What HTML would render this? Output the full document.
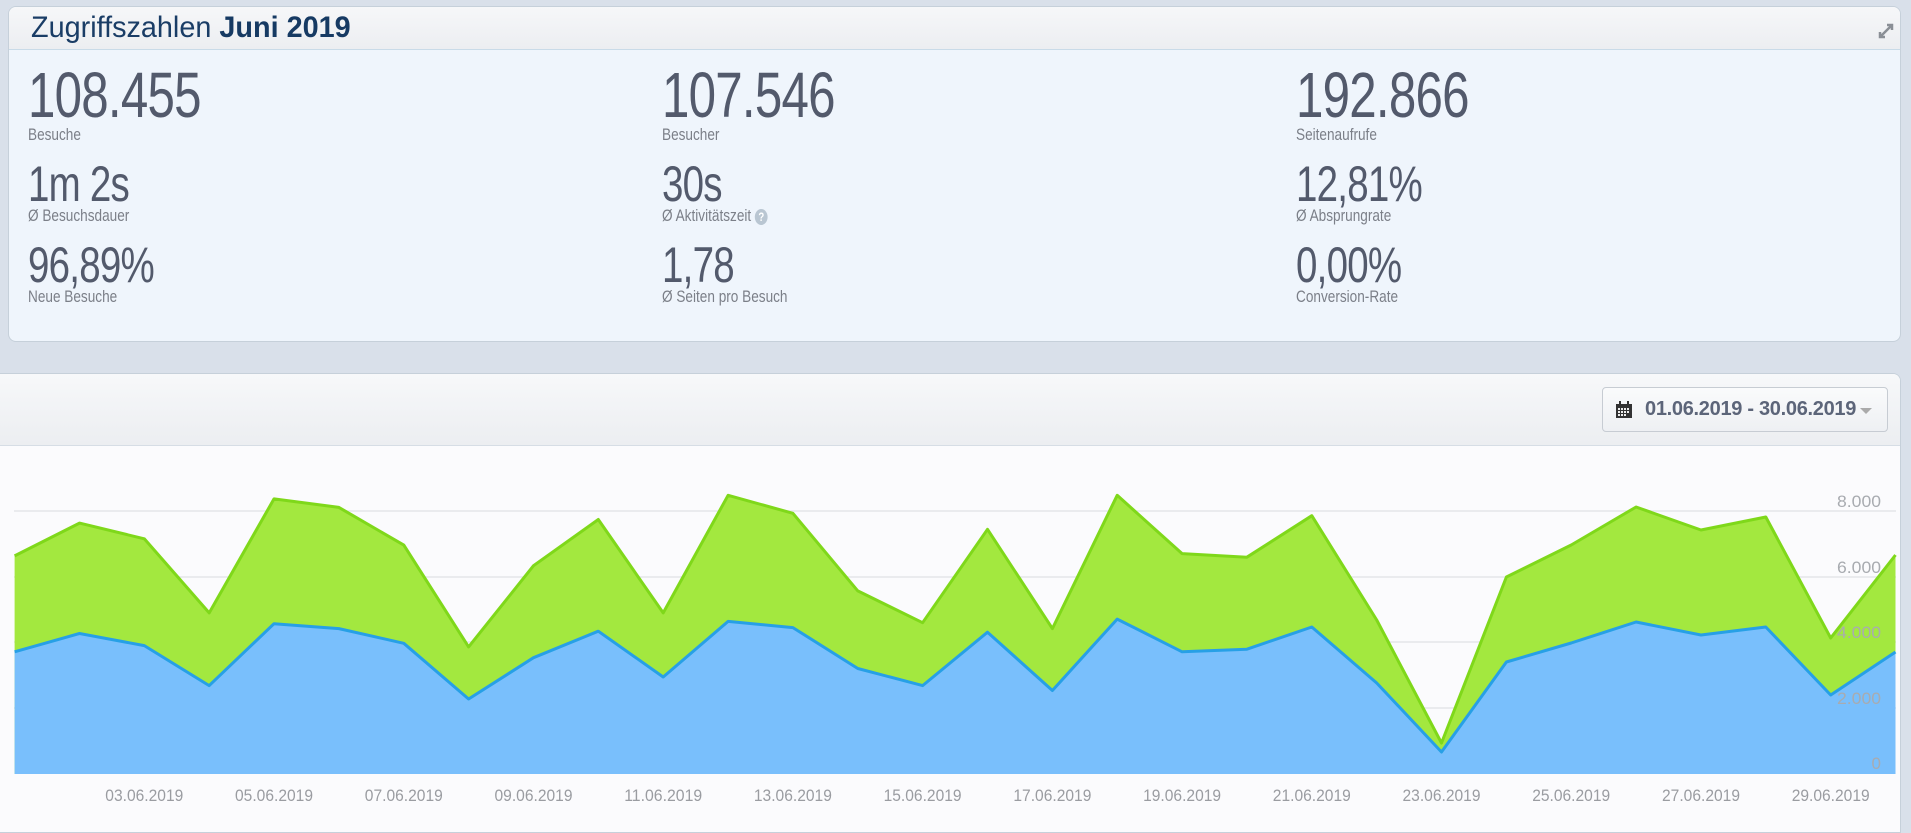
<!DOCTYPE html>
<html><head><meta charset="utf-8"><style>
*{margin:0;padding:0;box-sizing:border-box}
body{width:1911px;height:819px;background:#d9e0ea;position:relative;overflow:hidden;font-family:"Liberation Sans",sans-serif}
.p1{position:absolute;left:8px;top:6px;width:1893px;height:336px;background:#eff5fc;border:1px solid #c6d0da;border-radius:8px;overflow:hidden}
.h1{height:43px;background:linear-gradient(#f6f7f9,#eceef1);border-bottom:1px solid #c9dbe8}
.t{position:absolute;left:22px;top:4px;font-size:30px;color:#1a3d66;white-space:nowrap;transform:scaleX(.96);transform-origin:left}
.t b{color:#163a63}
.n{position:absolute;color:#535a6c;white-space:nowrap;transform:scaleX(.77);transform-origin:left top;letter-spacing:-1px}
.l{position:absolute;color:#7b7f88;font-size:17px;white-space:nowrap;transform:scaleX(.8);transform-origin:left top}
.p2{position:absolute;left:0;top:373px;width:1901px;height:460px;background:#fbfbfd;border:1px solid #c6d0da;border-left:none;border-radius:0 8px 0 0;overflow:hidden}
.h2{height:72px;background:linear-gradient(#f7f8fa,#eceef1);border-bottom:1px solid #d6dde5}
.btn{position:absolute;left:1602px;top:13px;width:286px;height:45px;border:1px solid #c7ccd3;border-radius:4px;background:linear-gradient(#fafbfc,#eef0f3);font-weight:bold;font-size:20px;color:#5c6579}
</style></head><body>
<div class="p1"><div class="h1"></div>
<div class="t">Zugriffszahlen <b>Juni 2019</b></div>
<div class="n" style="left:19px;top:51px;font-size:64px">108.455</div>
<div class="l" style="left:19px;top:118px">Besuche</div>
<div class="n" style="left:19px;top:148px;font-size:50px">1m 2s</div>
<div class="l" style="left:19px;top:199px">Ø Besuchsdauer</div>
<div class="n" style="left:19px;top:229px;font-size:50px">96,89%</div>
<div class="l" style="left:19px;top:280px">Neue Besuche</div>
<div class="n" style="left:653px;top:51px;font-size:64px">107.546</div>
<div class="l" style="left:653px;top:118px">Besucher</div>
<div class="n" style="left:653px;top:148px;font-size:50px">30s</div>
<div class="l" style="left:653px;top:199px">Ø Aktivitätszeit <span style="display:inline-block;width:16px;height:16px;border-radius:50%;background:#b9c6d2;color:#fff;font-size:12px;text-align:center;line-height:16px;font-weight:bold">?</span></div>
<div class="n" style="left:653px;top:229px;font-size:50px">1,78</div>
<div class="l" style="left:653px;top:280px">Ø Seiten pro Besuch</div>
<div class="n" style="left:1287px;top:51px;font-size:64px">192.866</div>
<div class="l" style="left:1287px;top:118px">Seitenaufrufe</div>
<div class="n" style="left:1287px;top:148px;font-size:50px">12,81%</div>
<div class="l" style="left:1287px;top:199px">Ø Absprungrate</div>
<div class="n" style="left:1287px;top:229px;font-size:50px">0,00%</div>
<div class="l" style="left:1287px;top:280px">Conversion-Rate</div>
<svg style="position:absolute;left:1865px;top:12px" width="24" height="24" viewBox="0 0 24 24"><path d="M6 18 L18 6 M13 6 H18 V11 M6 13 V18 H11" stroke="#8a8f96" stroke-width="2.5" fill="none"/></svg>
</div>
<div class="p2"><div class="h2"></div>
<div class="btn"><svg style="position:absolute;left:13px;top:13px" width="16" height="17" viewBox="0 0 16 17"><rect x="0" y="3" width="16" height="14" fill="#333"/><rect x="3" y="0" width="2" height="4" fill="#333"/><rect x="11" y="0" width="2" height="4" fill="#333"/><g fill="#eee"><rect x="2" y="7" width="2" height="2"/><rect x="5" y="7" width="2" height="2"/><rect x="8" y="7" width="2" height="2"/><rect x="11" y="7" width="2" height="2"/><rect x="2" y="10" width="2" height="2"/><rect x="5" y="10" width="2" height="2"/><rect x="8" y="10" width="2" height="2"/><rect x="11" y="10" width="2" height="2"/><rect x="2" y="13" width="2" height="2"/><rect x="5" y="13" width="2" height="2"/><rect x="8" y="13" width="2" height="2"/></g></svg>
<span style="position:absolute;left:42px;top:10px;letter-spacing:-.3px">01.06.2019 - 30.06.2019</span><span style="position:absolute;left:257px;top:20px;border-left:6px solid transparent;border-right:6px solid transparent;border-top:6px solid #aaa"></span></div>
</div>
<svg style="position:absolute;left:0;top:0" width="1911" height="819" viewBox="0 0 1911 819">
<g stroke="#e4e6ea" stroke-width="1.5"><line x1="14" x2="1896" y1="511" y2="511"/><line x1="14" x2="1896" y1="577" y2="577"/><line x1="14" x2="1896" y1="642" y2="642"/><line x1="14" x2="1896" y1="708" y2="708"/></g>
<polygon fill="#a3e83f" points="14.6,774 14.6,555.9 79.5,523.1 144.3,538.8 209.2,612.9 274,498.9 338.9,507.4 403.8,545.1 468.6,646.9 533.5,565.7 598.3,519.5 663.2,612.9 728.1,495.3 792.9,513.3 857.8,590.9 922.6,622.7 987.5,529.3 1052.4,628.6 1117.2,495.3 1182.1,553.6 1246.9,557.2 1311.8,515.7 1376.7,620 1441.5,743 1506.4,577 1571.2,545 1636.1,507 1701,530 1765.8,517 1830.7,638 1895.5,555 1895.5,774"/>
<polyline fill="none" stroke="#7fd81a" stroke-width="3" stroke-linejoin="round" points="14.6,555.9 79.5,523.1 144.3,538.8 209.2,612.9 274,498.9 338.9,507.4 403.8,545.1 468.6,646.9 533.5,565.7 598.3,519.5 663.2,612.9 728.1,495.3 792.9,513.3 857.8,590.9 922.6,622.7 987.5,529.3 1052.4,628.6 1117.2,495.3 1182.1,553.6 1246.9,557.2 1311.8,515.7 1376.7,620 1441.5,743 1506.4,577 1571.2,545 1636.1,507 1701,530 1765.8,517 1830.7,638 1895.5,555"/>
<polygon fill="#79bffc" points="14.6,774 14.6,651.8 79.5,633.5 144.3,645.6 209.2,685.6 274,623.7 338.9,628.6 403.8,643.3 468.6,699 533.5,657.7 598.3,631.2 663.2,677 728.1,621.4 792.9,627.6 857.8,668.5 922.6,685.6 987.5,632.2 1052.4,690.5 1117.2,619.1 1182.1,651.8 1246.9,649.2 1311.8,627 1376.7,683 1441.5,752 1506.4,662 1571.2,643 1636.1,622 1701,635 1765.8,627 1830.7,695 1895.5,652 1895.5,774"/>
<polyline fill="none" stroke="#27a0e6" stroke-width="3" stroke-linejoin="round" points="14.6,651.8 79.5,633.5 144.3,645.6 209.2,685.6 274,623.7 338.9,628.6 403.8,643.3 468.6,699 533.5,657.7 598.3,631.2 663.2,677 728.1,621.4 792.9,627.6 857.8,668.5 922.6,685.6 987.5,632.2 1052.4,690.5 1117.2,619.1 1182.1,651.8 1246.9,649.2 1311.8,627 1376.7,683 1441.5,752 1506.4,662 1571.2,643 1636.1,622 1701,635 1765.8,627 1830.7,695 1895.5,652"/>
<g font-family="Liberation Sans,sans-serif" font-size="17" fill="#a8abb0" text-anchor="end"><text x="1881" y="507" textLength="44" lengthAdjust="spacingAndGlyphs">8.000</text><text x="1881" y="573" textLength="44" lengthAdjust="spacingAndGlyphs">6.000</text><text x="1881" y="638" textLength="44" lengthAdjust="spacingAndGlyphs">4.000</text><text x="1881" y="704" textLength="44" lengthAdjust="spacingAndGlyphs">2.000</text><text x="1881" y="769">0</text></g>
<g font-family="Liberation Sans,sans-serif" font-size="17" fill="#9a9ca1" text-anchor="middle">
<text x="144.3" y="801" textLength="78" lengthAdjust="spacingAndGlyphs">03.06.2019</text><text x="274" y="801" textLength="78" lengthAdjust="spacingAndGlyphs">05.06.2019</text><text x="403.8" y="801" textLength="78" lengthAdjust="spacingAndGlyphs">07.06.2019</text><text x="533.5" y="801" textLength="78" lengthAdjust="spacingAndGlyphs">09.06.2019</text><text x="663.2" y="801" textLength="78" lengthAdjust="spacingAndGlyphs">11.06.2019</text><text x="792.9" y="801" textLength="78" lengthAdjust="spacingAndGlyphs">13.06.2019</text><text x="922.6" y="801" textLength="78" lengthAdjust="spacingAndGlyphs">15.06.2019</text><text x="1052.4" y="801" textLength="78" lengthAdjust="spacingAndGlyphs">17.06.2019</text><text x="1182.1" y="801" textLength="78" lengthAdjust="spacingAndGlyphs">19.06.2019</text><text x="1311.8" y="801" textLength="78" lengthAdjust="spacingAndGlyphs">21.06.2019</text><text x="1441.5" y="801" textLength="78" lengthAdjust="spacingAndGlyphs">23.06.2019</text><text x="1571.2" y="801" textLength="78" lengthAdjust="spacingAndGlyphs">25.06.2019</text><text x="1701" y="801" textLength="78" lengthAdjust="spacingAndGlyphs">27.06.2019</text><text x="1830.7" y="801" textLength="78" lengthAdjust="spacingAndGlyphs">29.06.2019</text></g>
</svg>
</body></html>
